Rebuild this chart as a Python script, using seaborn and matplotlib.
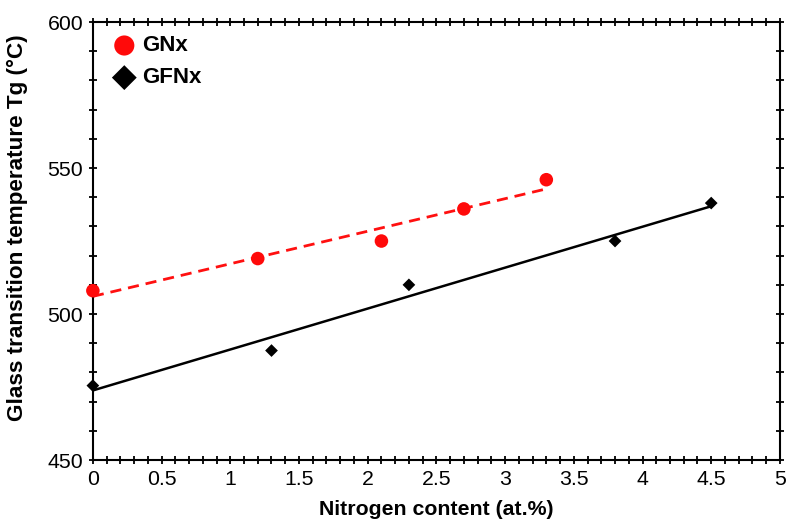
import numpy as np
import pandas as pd
import matplotlib
matplotlib.use('Agg')
import matplotlib.pyplot as plt
from matplotlib.ticker import MultipleLocator
import seaborn as sns

# values
gn_x = [0, 1.2, 2.1, 2.7, 3.3]
gn_tg = [508, 519, 525, 536, 546]
gfn_x = [0, 1.3, 2.3, 3.8, 4.5]
gfn_tg = [475.5, 487.5, 510, 525, 538]

sns.set_style('ticks')
plt.rcParams['font.family'] = ['Liberation Sans', 'DejaVu Sans']
plt.rcParams['text.color'] = 'black'
plt.rcParams['axes.labelcolor'] = 'black'
plt.rcParams['xtick.color'] = 'black'
plt.rcParams['ytick.color'] = 'black'

fig = plt.figure(figsize=(7.87, 5.24), dpi=100)
ax = fig.add_axes([0.118, 0.122, 0.873, 0.836])

gn = pd.DataFrame({'x': gn_x, 'tg': gn_tg})
gfn = pd.DataFrame({'x': gfn_x, 'tg': gfn_tg})

# fitted trend lines
sns.regplot(data=gn, x='x', y='tg', ci=None, truncate=True, scatter=False,
            color='#ff1010', line_kws={'ls': (0, (4, 2.5)), 'lw': 2}, ax=ax)
sns.regplot(data=gfn, x='x', y='tg', ci=None, truncate=True, scatter=False,
            color='black', line_kws={'lw': 1.8}, ax=ax)

sns.scatterplot(data=gn, x='x', y='tg', marker='o', s=95, color='#ff0a0a',
                edgecolor='none', label='GNx', ax=ax, zorder=3, clip_on=False)
sns.scatterplot(data=gfn, x='x', y='tg', marker='D', s=42, color='black',
                edgecolor='none', label='GFNx', ax=ax, zorder=3, clip_on=False)

ax.set_xlim(0, 5)
ax.set_ylim(450, 600)
ax.xaxis.set_major_locator(MultipleLocator(0.5))
ax.xaxis.set_minor_locator(MultipleLocator(0.1))
ax.yaxis.set_major_locator(MultipleLocator(50))
ax.yaxis.set_minor_locator(MultipleLocator(10))
ax.set_xticks([0, 0.5, 1, 1.5, 2, 2.5, 3, 3.5, 4, 4.5, 5])
ax.set_xticklabels(['0', '0.5', '1', '1.5', '2', '2.5', '3', '3.5', '4', '4.5', '5'])

for s in ax.spines.values():
    s.set_linewidth(1.5)
    s.set_visible(True)
    s.set_color('black')
ax.tick_params(which='both', direction='inout', top=True, right=True,
               width=1.3, length=6, labelsize=15.3, color='black',
               labelcolor='black')
ax.tick_params(axis='x', pad=4)
ax.tick_params(axis='y', pad=4)

ax.set_xlabel('Nitrogen content (at.%)', fontsize=15.3, fontweight='bold', labelpad=8)
ax.set_ylabel('Glass transition temperature Tg (°C)', fontsize=16.2,
              fontweight='bold', labelpad=10)
ax.yaxis.set_label_coords(-0.095, 0.53)

leg = ax.legend(loc='upper left', frameon=False, fontsize=16,
                handletextpad=-0.2, borderaxespad=0.2, labelspacing=0.5,
                bbox_to_anchor=(-0.006, 1.0))
leg.legend_handles[0].set_sizes([210])
leg.legend_handles[1].set_sizes([160])
for t in leg.get_texts():
    t.set_fontweight('bold')
    t.set_color('black')

fig.savefig('out.png', dpi=100)
